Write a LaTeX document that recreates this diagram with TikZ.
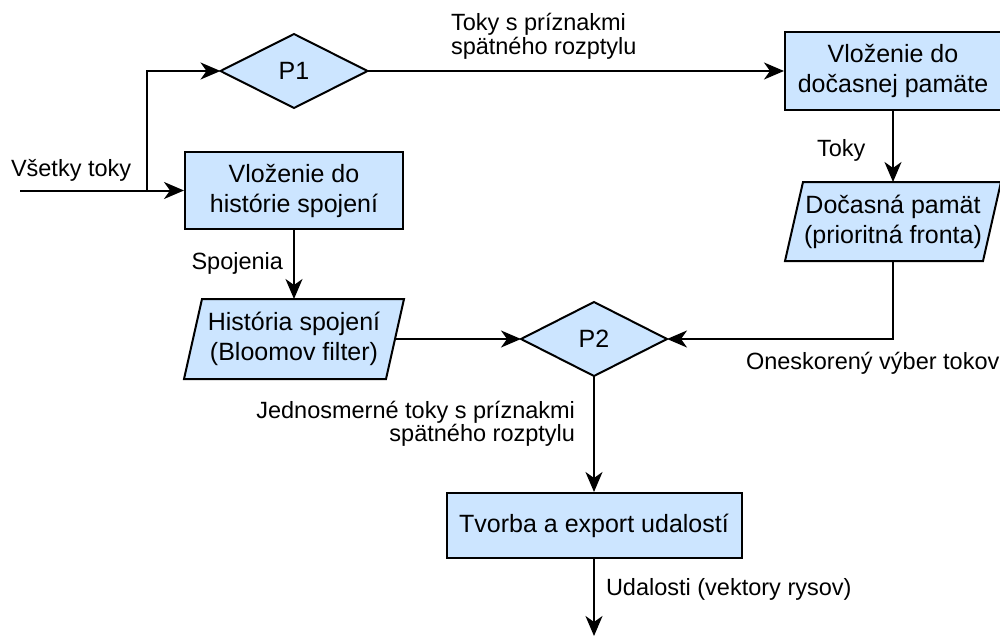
\documentclass[tikz,border=0pt]{standalone}
\usepackage{fontspec}
\setmainfont{Liberation Sans}
\usetikzlibrary{arrows.meta}
\definecolor{boxfill}{HTML}{CCE5FF}
\begin{document}
\begin{tikzpicture}[x=1pt,y=-1pt,
  line width=2pt,
  proc/.style={draw=black, fill=boxfill, line width=2pt, inner sep=0pt, align=center,
    font=\fontsize{25}{30}\selectfont},
  frame/.style={inner sep=0pt, align=center, font=\fontsize{25}{30}\selectfont},
  shp/.style={draw=black, fill=boxfill, line width=2pt, line join=miter},
  lbl/.style={inner sep=0pt, font=\fontsize{23.5}{23.5}\selectfont},
  arr/.style={line width=2pt, -{Stealth[length=20pt,width=17pt,inset=6pt]}}
]
\useasboundingbox (0,0) rectangle (1000,639);

% process boxes
\node[proc, minimum width=218pt, minimum height=77pt] (hb) at (294,190.5) {Vloženie do\\histórie spojení};
\node[proc, minimum width=216pt, minimum height=78pt] (vb) at (893,71) {Vloženie do\\dočasnej pamäte};
\node[proc, minimum width=295pt, minimum height=65pt] (eb) at (594,525.5) {Tvorba a export udalostí};

% outline frames of the decisions and data stores
\path node[frame, minimum width=145pt, minimum height=72pt] (p1) at (294,71) {}
      node[frame, minimum width=144pt, minimum height=72pt] (p2) at (594,339) {}
      node[frame, minimum width=218pt, minimum height=78pt] (hp) at (294,339) {}
      node[frame, minimum width=214pt, minimum height=77pt] (tp) at (893,221.5) {};

% diamonds
\draw[shp] (p1.west) -- (p1.north) -- (p1.east) -- (p1.south) -- cycle;
\draw[shp] (p2.west) -- (p2.north) -- (p2.east) -- (p2.south) -- cycle;
% parallelograms
\draw[shp] ([xshift=18pt]hp.north west) -- (hp.north east)
           -- ([xshift=-18pt]hp.south east) -- (hp.south west) -- cycle;
\draw[shp] ([xshift=18pt]tp.north west) -- (tp.north east)
           -- ([xshift=-18pt]tp.south east) -- (tp.south west) -- cycle;

% their texts
\node[frame] (p1t) at (p1) {P1};
\node[frame] (p2t) at (p2) {P2};
\node[frame] (hpt) at (hp) {História spojení\\(Bloomov filter)};
\node[frame] (tpt) at (tp) {Dočasná pamät\\(prioritná fronta)};

% free ends
\coordinate (in) at (20,190.5);
\coordinate (split) at (147,190.5);
\coordinate (out) at (594,636);

% connectors
\draw[arr] (in) -- (hb.west);
\draw[arr] (split) |- (p1.west);
\draw[arr] (p1.east) -- (vb.west);
\draw[arr] (vb.south) -- (tp.north);
\draw[arr] (hb.south) -- (hp.north);
\draw[arr] ([xshift=-9pt]hp.east) -- (p2.west);
\draw[arr] (tp.south) |- (p2.east);
\draw[arr] (p2.south) -- (eb.north);
\draw[arr] (eb.south) -- (out);

% connector labels
\node[lbl, align=left, anchor=north west] (l1) at (450,12.5) {Toky s príznakmi\\spätného rozptylu};
\node[lbl, anchor=base west] (l2) at (10,177) {Všetky toky};
\node[lbl, anchor=base east] (l3) at (284,269) {Spojenia};
\node[lbl, anchor=base west] (l4) at (816,157) {Toky};
\node[lbl, anchor=base west] (l5) at (745,369) {Oneskorený výber tokov};
\node[lbl, align=right, anchor=north east] (l6) at (576,400) {Jednosmerné toky s príznakmi\\spätného rozptylu};
\node[lbl, anchor=base west] (l7) at (605,595) {Udalosti (vektory rysov)};
\end{tikzpicture}
\end{document}
